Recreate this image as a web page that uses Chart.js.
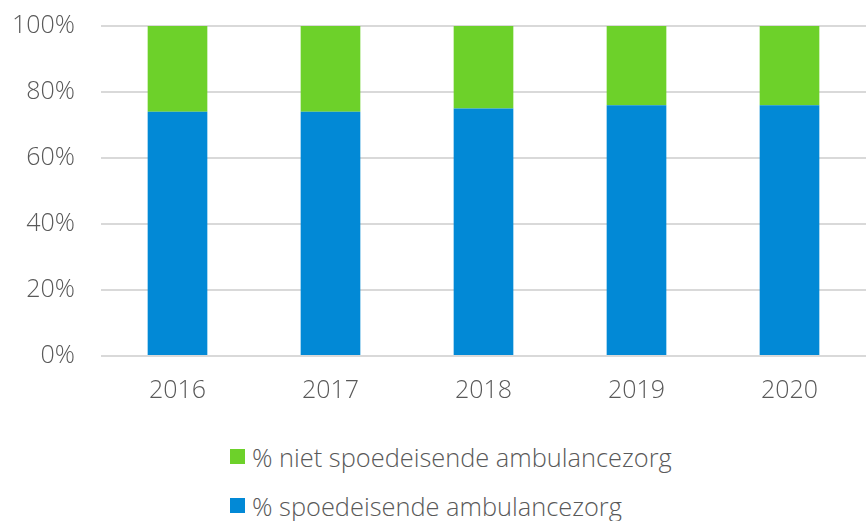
<!DOCTYPE html>
<html>
<head>
<meta charset="utf-8">
<script src="https://cdn.jsdelivr.net/npm/chart.js@4.4.1/dist/chart.umd.min.js"></script>
<style>
  html, body { margin: 0; padding: 0; background: #fff; overflow: hidden; }
  #wrap { position: relative; width: 866px; height: 521px; overflow: hidden; }
  #c { position: absolute; left: 0; top: -15px; }
  #legend { position: absolute; left: 230px; top: 432px; font-family: "Open Sans", sans-serif; font-weight: 300; font-size: 25.4px; color: #595959; }
  #legend div { height: 49px; display: flex; align-items: center; white-space: nowrap; }
  #legend span.box { display: inline-block; width: 15px; height: 15px; margin-right: 7px; }
</style>
</head>
<body>
<div id="wrap">
  <canvas id="c" width="866" height="433"></canvas>
  <div id="legend"></div>
</div>
<script>
const categories = ["2016", "2017", "2018", "2019", "2020"];
const spoedeisend = [74, 74, 75, 76, 76];
const nietSpoedeisend = [26, 26, 25, 24, 24];
const yTicks = [0, 20, 40, 60, 80, 100];
const seriesNames = ["% spoedeisende ambulancezorg", "% niet spoedeisende ambulancezorg"];
const seriesColors = ["#0289D6", "#6DD12A"];

const fontFamily = '"Open Sans", sans-serif';
const chart = new Chart(document.getElementById('c'), {
  type: 'bar',
  data: {
    labels: categories,
    datasets: [
      { label: seriesNames[0], data: spoedeisend, backgroundColor: seriesColors[0], categoryPercentage: 1, barPercentage: 0.39 },
      { label: seriesNames[1], data: nietSpoedeisend, backgroundColor: seriesColors[1], categoryPercentage: 1, barPercentage: 0.39 }
    ]
  },
  options: {
    responsive: false,
    animation: false,
    layout: { padding: { top: 0, right: 0, left: 0, bottom: 0 } },
    plugins: { legend: { display: false }, tooltip: { enabled: false } },
    scales: {
      x: {
        stacked: true,
        grid: { display: false },
        border: { display: false },
        ticks: { color: '#595959', font: { family: fontFamily, size: 25, weight: 300 }, padding: 12 }
      },
      y: {
        stacked: true,
        min: 0, max: 100,
        afterBuildTicks: (axis) => { axis.ticks = yTicks.map(v => ({ value: v })); },
        afterFit: (axis) => { axis.width = 101; },
        grid: { color: '#d9d9d9', lineWidth: 2, drawTicks: false },
        border: { display: false },
        ticks: { color: '#595959', font: { family: fontFamily, size: 25, weight: 300 }, padding: 26, callback: v => v + '%' }
      }
    }
  }
});

const legend = document.getElementById('legend');
[1, 0].forEach(i => {
  const row = document.createElement('div');
  const box = document.createElement('span');
  box.className = 'box';
  box.style.background = seriesColors[i];
  row.appendChild(box);
  row.appendChild(document.createTextNode(seriesNames[i]));
  legend.appendChild(row);
});
</script>
</body>
</html>
